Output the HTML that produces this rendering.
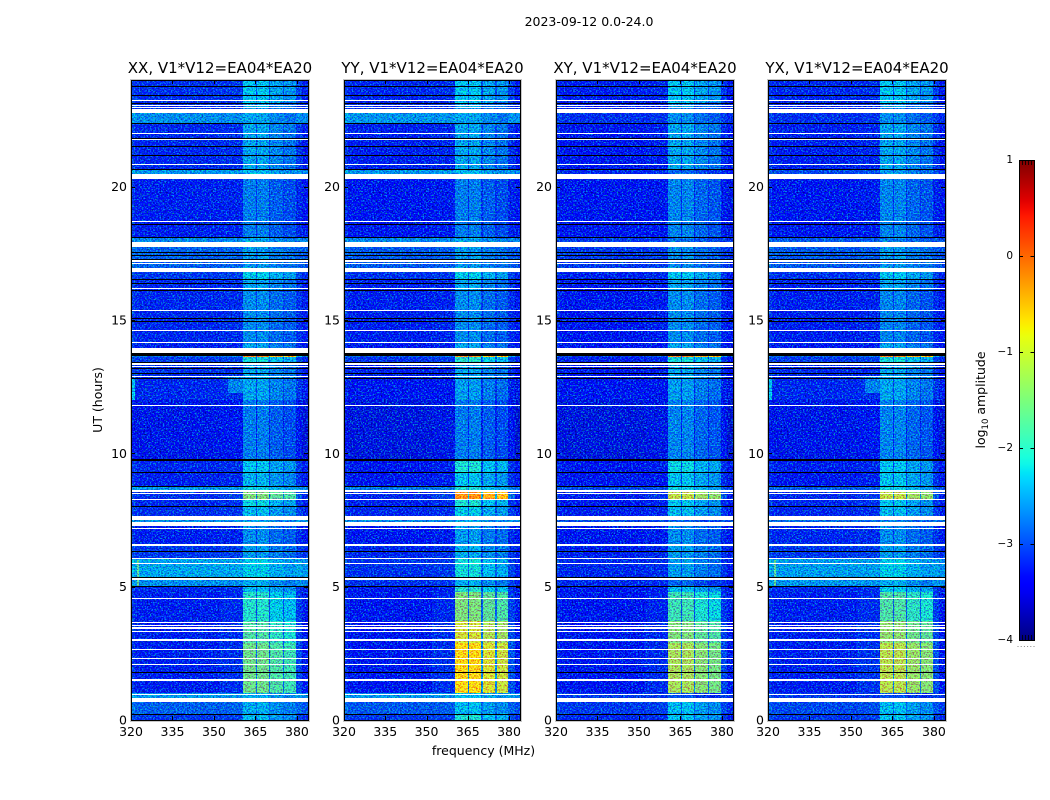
<!DOCTYPE html>
<html lang="en">
<head>
<meta charset="utf-8">
<title>2023-09-12 0.0-24.0 waterfall</title>
<style>
html,body{margin:0;padding:0;background:#fff;width:1050px;height:800px;overflow:hidden}
svg{display:block;font-family:"DejaVu Sans","Liberation Sans",sans-serif;fill:#000}
.tick{font-size:12.5px}
.title{font-size:15px;text-anchor:middle}
.grain{mix-blend-mode:hard-light}
</style>
</head>
<body>
<svg id="chart" xmlns="http://www.w3.org/2000/svg" width="1050" height="800" viewBox="0 0 1050 800">
  <defs>
    <filter id="grain-filter" x="0" y="0" width="100%" height="100%" color-interpolation-filters="sRGB">
      <feTurbulence type="fractalNoise" baseFrequency="0.62 0.72" numOctaves="2" seed="7"/>
      <feColorMatrix type="matrix" values="0 0 0 0 0.5  3 0 0 0 -1.05  0 1.5 0 0 -0.25  0 0 0 0 1"/>
    </filter>
    <linearGradient id="cbar-gradient" x1="0" y1="1" x2="0" y2="0"></linearGradient>
  </defs>
  <text x="589" y="26" font-size="12.5" text-anchor="middle">2023-09-12 0.0-24.0</text>
  <g id="panel-xx" transform="translate(131,80)"></g>
  <g id="panel-yy" transform="translate(344,80)"></g>
  <g id="panel-xy" transform="translate(556,80)"></g>
  <g id="panel-yx" transform="translate(768,80)"></g>
  <text x="483.5" y="755" font-size="12.5" text-anchor="middle">frequency (MHz)</text>
  <text transform="translate(102,400) rotate(-90)" font-size="12.5" text-anchor="middle">UT (hours)</text>
  <g id="colorbar" transform="translate(1019,160)"></g>
  <text transform="translate(985,400) rotate(-90)" font-size="12.5" text-anchor="middle">log<tspan font-size="8.5" dy="3">10</tspan><tspan dy="-3"> amplitude</tspan></text>
</svg>
<script>
const panelIds = ['panel-xx', 'panel-yy', 'panel-xy', 'panel-yx'];
const panelTitles = ['XX, V1*V12=EA04*EA20', 'YY, V1*V12=EA04*EA20', 'XY, V1*V12=EA04*EA20', 'YX, V1*V12=EA04*EA20'];
const xTicks = [320, 335, 350, 365, 380];
const yTicks = [0, 5, 10, 15, 20];
const cbarTicks = [1, 0, -1, -2, -3, -4];

/* frequency channels (MHz), how much of the band-pass signal each carries, and its offset in log10 */
const freqEdges = [320, 321.5, 340, 352, 360.5, 365.1, 365.6, 369.9, 370.4, 375, 375.5, 379.8, 382, 384];
const stripWeight = [0, 0, 0, 0.06, 1, 0.3, 1, 0.3, 1, 0.3, 1, 0.15, 0];
const stripOffset = [0.05, -0.08, -0.08, -0.08, 0.1, -0.08, 0.1, -0.08, -0.1, -0.08, -0.2, -0.08, -0.15];

/* time segments (UT hours) */
const levelEdges = [0, 0.2, 0.66, 1, 2.9, 3.7, 4.8, 5, 5.35, 6.05, 6.6, 7.28, 7.65, 8, 8.25, 8.63, 8.75, 9.3, 9.75, 12, 12.8, 13.4, 13.6, 13.65, 14.1, 16.1, 16.5, 16.8, 17.75, 18.1, 20.3, 20.65, 22.35, 22.75, 23.1, 24];

/* background log10 amplitude per time segment */
const bgXX = [-3.1, -2.85, -2.5, -3.25, -3.25, -3.25, -3.2, -2.55, -2.4, -3.1, -3.25, -2.55, -3.15, -3.2, -3.15, -2.5, -3.25, -3.2, -3.4, -3.2, -3.15, -3.1, -2.8, -3.25, -3.2, -3.2, -3.1, -2.85, -2.6, -3.25, -2.5, -3.2, -2.55, -3.15, -3.15];
const bgYY = [-3.1, -2.9, -2.5, -3.3, -3.3, -3.3, -3.3, -3.15, -3.15, -3.2, -3.3, -2.6, -3.2, -3.25, -3.2, -2.7, -3.3, -3.3, -3.45, -3.35, -3.25, -3.15, -2.9, -3.3, -3.25, -3.25, -3.15, -2.9, -2.6, -3.3, -2.5, -3.25, -2.5, -3.15, -3.2];
const bgXY = [-3.2, -3.1, -3.1, -3.3, -3.3, -3.3, -3.3, -3.2, -3.2, -3.25, -3.3, -3, -3.25, -3.3, -3.25, -3, -3.35, -3.3, -3.45, -3.35, -3.3, -3.25, -3.1, -3.35, -3.3, -3.3, -3.25, -3.1, -3.1, -3.35, -3.2, -3.3, -3.15, -3.25, -3.25];
const bgYX = [-3.1, -3, -3.1, -3.25, -3.25, -3.25, -3.2, -2.5, -2.45, -3.1, -3.2, -2.8, -3.2, -3.2, -3.2, -2.9, -3.3, -3.25, -3.4, -3.2, -3.2, -3.1, -2.9, -3.3, -3.25, -3.25, -3.15, -2.9, -2.9, -3.3, -3, -3.25, -3.15, -3.2, -3.2];

/* band-pass (360-380 MHz) log10 amplitude per time segment */
const stXX = [-2.45, -2.55, -2.5, -1.7, -1.9, -2.15, -2.45, -2.55, -2.35, -2.65, -2.75, -2.6, -2.45, -2.3, -1.6, -2.3, -2.5, -2.4, -2.85, -2.6, -2.6, -2.25, -0.4, -2.6, -2.75, -2.6, -2.35, -2.65, -2.55, -2.85, -2.45, -2.6, -2.6, -2.65, -2.4];
const stYY = [-2.2, -2.45, -2.4, -0.85, -1.1, -1.6, -2.15, -2.55, -2.25, -2.55, -2.65, -2.55, -2.35, -2.2, -0.4, -2.2, -2.4, -2.2, -2.85, -2.65, -2.6, -2.15, -0.5, -2.6, -2.75, -2.6, -2.35, -2.65, -2.55, -2.85, -2.45, -2.6, -2.6, -2.65, -2.4];
const stXY = [-2.4, -2.45, -3.1, -1.35, -1.6, -2, -2.45, -3, -2.65, -2.65, -2.75, -3, -2.45, -2.4, -1.2, -2.3, -2.4, -2.3, -2.8, -2.65, -2.6, -2.25, -0.4, -2.6, -2.75, -2.6, -2.4, -2.75, -2.9, -2.8, -3, -2.6, -2.75, -2.75, -2.4];
const stYX = [-2.4, -2.45, -3.1, -1.25, -1.5, -1.9, -2.35, -2.55, -2.35, -2.65, -2.75, -2.8, -2.45, -2.4, -1.2, -2.3, -2.4, -2.4, -2.8, -2.6, -2.6, -2.25, -0.4, -2.6, -2.8, -2.6, -2.4, -2.65, -2.8, -2.8, -2.65, -2.6, -2.75, -2.75, -2.4];

const bgSeries = [bgXX, bgYY, bgXY, bgYX];
const stSeries = [stXX, stYY, stXY, stYX];

/* localized interference: panel index, f0, f1, ut0, ut1, log10 amplitude */
const rfiPanel = [0, 3, 0, 3, 0, 3];
const rfiF0 = [355, 355, 320.5, 320.5, 322, 322];
const rfiF1 = [360.5, 360.5, 321.5, 321.5, 323, 323];
const rfiU0 = [12.25, 12.25, 12, 12, 5, 5];
const rfiU1 = [12.85, 12.85, 12.8, 12.8, 6, 6];
const rfiValue = [-2.7, -2.7, -2.3, -2.3, -1.7, -1.7];

/* flagged rows: white = no data, black = zero */
const blankBands = [[23.21, 23.25], [23.01, 23.05], [22.94, 22.98], [22.75, 22.9], [21.99, 22.02], [21.76, 21.8], [20.81, 20.85], [20.29, 20.46], [18.68, 18.71], [17.75, 17.93], [17.19, 17.25], [17.09, 17.13], [16.8, 16.96], [16.15, 16.19], [15.34, 15.36], [14.59, 14.63], [14.13, 14.16], [13.75, 13.95], [13.32, 13.38], [13.24, 13.28], [12.85, 12.89], [11.78, 11.81], [8.56, 8.63], [8.46, 8.5], [8.25, 8.29], [7.5, 7.65], [7.28, 7.43], [7.15, 7.19], [6.54, 6.59], [6.05, 6.09], [5.85, 5.88], [5.25, 5.31], [4.53, 4.56], [3.63, 3.66], [3.51, 3.55], [3.43, 3.47], [3.3, 3.34], [2.96, 3.03], [2.63, 2.65], [2.28, 2.31], [2.06, 2.09], [1.47, 1.53], [0.93, 0.96], [0.66, 0.83]];
const zeroBands = [[23.74, 23.78], [23.4, 23.43], [23.09, 23.13], [22.34, 22.38], [21.83, 21.84], [21.49, 21.53], [21.15, 21.18], [20.63, 20.65], [18.57, 18.6], [18.09, 18.12], [17.5, 17.54], [17.39, 17.43], [17.28, 17.3], [16.5, 16.54], [16.34, 16.38], [16.1, 16.14], [15.05, 15.09], [14.91, 14.95], [13.65, 13.75], [13.38, 13.41], [13.15, 13.19], [12.99, 13.02], [12.79, 12.83], [9.71, 9.78], [9.26, 9.31], [8.75, 8.79], [7.99, 8.01], [6.3, 6.33], [5.31, 5.35], [5, 5.03], [1.75, 1.79], [0.18, 0.21]];

const SVGNS = 'http://www.w3.org/2000/svg';
let plotW = 177;
const plotH = 640;
function xScale(f) { return (f - 320) / 64 * plotW; }
function yScale(u) { return plotH - u / 24 * plotH; }
function cbarY(v) { return (1 - v) / 5 * 480; }
function ramp(t, pts) {
  for (let i = 1; i < pts.length; i++) {
    if (t <= pts[i][0]) {
      const a = pts[i - 1], b = pts[i];
      return a[1] + (b[1] - a[1]) * (t - a[0]) / (b[0] - a[0]);
    }
  }
  return pts[pts.length - 1][1];
}
function jet(t) {
  t = Math.max(0, Math.min(1, t));
  const r = ramp(t, [[0, 0], [0.35, 0], [0.66, 1], [0.89, 1], [1, 0.5]]);
  const g = ramp(t, [[0, 0], [0.125, 0], [0.375, 1], [0.64, 1], [0.91, 0], [1, 0]]);
  const b = ramp(t, [[0, 0.5], [0.11, 1], [0.34, 1], [0.65, 0], [1, 0]]);
  return 'rgb(' + Math.round(r * 255) + ',' + Math.round(g * 255) + ',' + Math.round(b * 255) + ')';
}
function colorOf(v) { return jet((v + 4) / 5); }
function add(parent, tag, attrs) {
  const el = document.createElementNS(SVGNS, tag);
  for (const k in attrs) el.setAttribute(k, attrs[k]);
  parent.appendChild(el);
  return el;
}
function bandRect(parent, u0, u1, f0, f1, fill) {
  const top = Math.round(yScale(u1));
  const h = Math.max(1, Math.round(yScale(u0)) - top);
  const left = Math.round(xScale(f0));
  const w = Math.max(1, Math.round(xScale(f1)) - left);
  return add(parent, 'rect', { x: left, y: top, width: w, height: h, fill: fill, 'shape-rendering': 'crispEdges' });
}

panelIds.forEach(function (id, p) {
  plotW = p === 1 ? 176 : 177;
  const g = document.getElementById(id);
  const bg = bgSeries[p];
  const st = stSeries[p];
  for (let i = 0; i < levelEdges.length - 1; i++) {
    for (let c = 0; c < freqEdges.length - 1; c++) {
      const v = bg[i] + stripWeight[c] * (st[i] - bg[i]) + stripOffset[c];
      const cell = bandRect(g, levelEdges[i], levelEdges[i + 1], freqEdges[c], freqEdges[c + 1], colorOf(v));
      
      
    }
  }
  for (let r = 0; r < rfiPanel.length; r++) {
    if (rfiPanel[r] !== p) continue;
    const patch = bandRect(g, rfiU0[r], rfiU1[r], rfiF0[r], rfiF1[r], colorOf(rfiValue[r]));
    
    
  }
  const grain = add(g, 'rect', { x: 0, y: 0, width: plotW, height: plotH, filter: 'url(#grain-filter)', opacity: 0.55, class: 'grain' });
  
  
  blankBands.forEach(function (b) {
    const row = bandRect(g, b[0], b[1], 320, 384, '#fff');
    
    
  });
  zeroBands.forEach(function (b) {
    const row = bandRect(g, b[0], b[1], 320, 384, '#000');
    
    
  });
  const halo = add(g, 'rect', { x: -0.5, y: -0.5, width: plotW + 2, height: plotH + 2, fill: 'none', stroke: '#c8c8c8', 'stroke-width': 1 });
  
  
  const frame = add(g, 'rect', { x: 0.5, y: 0.5, width: plotW, height: plotH, fill: 'none', stroke: '#000', 'stroke-width': 1 });
  
  
  xTicks.forEach(function (t) {
    const x = Math.round(xScale(t)) + 0.5;
    const d = 'M' + x + ' 0V4M' + x + ' ' + plotH + 'V' + (plotH - 4);
    const mark = add(g, 'path', { d: d, stroke: '#000', fill: 'none' });
    
    
    const label = add(g, 'text', { x: xScale(t), y: plotH + 16, class: 'tick', 'text-anchor': 'middle' });
    label.textContent = String(t);
    
    
  });
  yTicks.forEach(function (t) {
    const y = Math.round(yScale(t)) + 0.5;
    const d = 'M0 ' + y + 'H4M' + plotW + ' ' + y + 'H' + (plotW - 4);
    const mark = add(g, 'path', { d: d, stroke: '#000', fill: 'none' });
    
    
    const label = add(g, 'text', { x: -4, y: yScale(t) + 4.5, class: 'tick', 'text-anchor': 'end' });
    label.textContent = String(t);
    
    
  });
  const title = add(g, 'text', { x: plotW / 2 + 0.5, y: -7, class: 'title' });
  title.textContent = panelTitles[p];
  
  
});

const grad = document.getElementById('cbar-gradient');
for (let i = 0; i <= 60; i++) {
  add(grad, 'stop', { offset: i / 60, 'stop-color': jet(i / 60) });
}
const cbar = document.getElementById('colorbar');
const cbarBody = add(cbar, 'rect', { x: 0.5, y: 0.5, width: 15, height: 480, fill: 'url(#cbar-gradient)', stroke: '#000' });


cbarTicks.forEach(function (t) {
  const y = Math.round(cbarY(t)) + 0.5;
  const mark = add(cbar, 'path', { d: 'M0 ' + y + 'H4M15.5 ' + y + 'H11.5', stroke: '#000', fill: 'none' });
  
  
  const label = add(cbar, 'text', { x: -6, y: cbarY(t) + 3, 'font-size': 10.5, 'text-anchor': 'end' });
  label.textContent = String(t).replace('-', '\u2212');
  
  
});
for (let i = 1; i <= 4; i++) {
  const x = i * 3 + 0.5;
  const minor = add(cbar, 'path', { d: 'M' + x + ' 0V5M' + x + ' 480V475', stroke: '#000', fill: 'none', opacity: 0.8 });
  
  
}
for (let i = 0; i < 6; i++) {
  const dot = add(cbar, 'rect', { x: i * 3.2 - 1.5, y: 486, width: 1, height: 1, fill: '#888' });
  
  
}
</script>
</body>
</html>
